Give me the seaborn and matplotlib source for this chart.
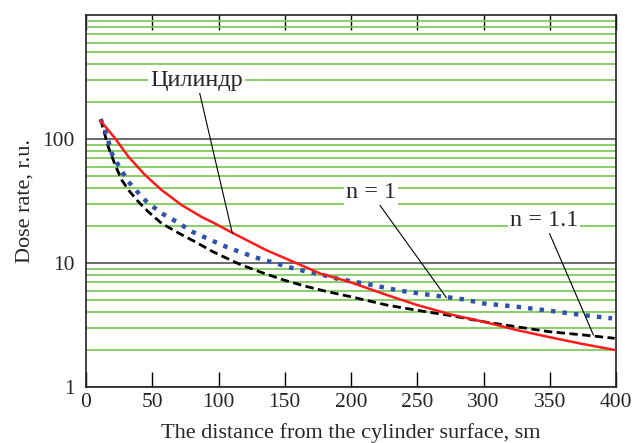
import matplotlib
matplotlib.use("Agg")
from matplotlib import pyplot as plt
from matplotlib import ticker
import seaborn as sns
import pandas as pd

# values
cyl_x = [11, 22, 32, 44.5, 57, 72, 87, 97, 111, 136, 159, 177, 194, 202, 227, 250, 275, 300, 325, 350, 375, 399]
cyl_y = [140, 101, 72, 51.3, 38.8, 29.4, 23.6, 20.9, 17.4, 12.7, 9.95, 8.2, 7.29, 6.85, 5.52, 4.58, 3.85, 3.36, 2.88, 2.52, 2.22, 1.99]

n1_x = [11, 15.6, 19.4, 25.7, 32, 37, 45.8, 57, 68.4, 80, 88, 103.6, 116, 129, 141, 154, 167, 179, 189,
        212, 237, 260, 285, 300, 325, 350, 375, 397]
n1_y = [145, 108, 76.7, 58, 45.3, 39.3, 31.2, 25.2, 21.5, 17.9, 16.4, 13.8, 12.3, 11.0, 10.1, 9.2, 8.5, 8.0, 7.5,
        6.77, 5.98, 5.52, 5.09, 4.72, 4.44, 4.12, 3.8, 3.58]

n11_x = [11, 16.8, 22, 27, 32, 39.5, 47, 57, 70, 82, 96, 101, 116, 131, 149, 167, 180,
         202, 227, 252, 277, 300, 325, 350, 375, 399]
n11_y = [144, 86.7, 61.7, 46.7, 38.8, 31.2, 25.9, 20.9, 17.4, 14.9, 12.3, 11.6, 9.77, 8.5, 7.3, 6.44, 5.95,
         5.28, 4.58, 4.12, 3.74, 3.36, 3.06, 2.79, 2.63, 2.47]

x_ticks = [0, 50, 100, 150, 200, 250, 300, 350, 400]
y_ticks = [1, 10, 100]

sns.set_style("white")
plt.rcParams["font.family"] = ["Liberation Serif", "DejaVu Serif"]

fig = plt.figure(figsize=(6.36, 4.43), dpi=100)
ax = fig.add_axes([86 / 636, 1 - 387 / 443, 530 / 636, 372 / 443])

cyl = pd.DataFrame({"x": cyl_x, "y": cyl_y})
n1 = pd.DataFrame({"x": n1_x, "y": n1_y})
n11 = pd.DataFrame({"x": n11_x, "y": n11_y})

sns.lineplot(data=n11, x="x", y="y", ax=ax, color="black", lw=2,
             linestyle=(0, (3, 1.6)), zorder=3)
sns.lineplot(data=n1, x="x", y="y", ax=ax, color="#3052ad", lw=3.2,
             linestyle=(0, (1, 1.6)), zorder=4)
sns.lineplot(data=cyl, x="x", y="y", ax=ax, color="#ff1a1a", lw=1.8, zorder=5)

ax.set_yscale("log")
ax.set_xlim(0, 400)
ax.set_ylim(1, 1000)
ax.xaxis.set_major_locator(ticker.FixedLocator(x_ticks))
ax.yaxis.set_major_locator(ticker.FixedLocator(y_ticks))
ax.yaxis.set_major_formatter(ticker.FixedFormatter([str(v) for v in y_ticks]))
ax.yaxis.set_minor_locator(ticker.LogLocator(base=10, subs=range(2, 10)))
ax.yaxis.set_minor_formatter(ticker.NullFormatter())

ax.yaxis.grid(True, which="major", color="#6e6e6e", lw=1.5)
ax.yaxis.grid(True, which="minor", color="#7fcc5c", lw=1.3)
ax.xaxis.grid(False)
ax.set_axisbelow(True)

ax.tick_params(axis="x", which="major", direction="in", top=True, bottom=True,
               length=11, width=1, color="black", labelsize=15.5, pad=4)
ax.tick_params(axis="y", which="both", length=0, labelsize=15.5, pad=8)
for s in ax.spines.values():
    s.set_color("#222222")
    s.set_linewidth(1.2)

ax.set_xlabel("The distance from the cylinder surface, sm", fontsize=16, labelpad=8)
ax.set_ylabel("Dose rate, r.u.", fontsize=16, labelpad=6)

box = dict(fc="white", ec="none", pad=1.5)
arrow = dict(arrowstyle="-", color="black", lw=0.8, shrinkA=0, shrinkB=0)
ax.annotate("Цилиндр", xy=(110.4, 17.4), xytext=(83.5, 299), fontsize=17.5,
            ha="center", va="center", bbox=box, arrowprops=arrow, zorder=6)
ax.annotate("n = 1", xy=(272, 5.25), xytext=(215, 36.9), fontsize=17.5,
            ha="center", va="center", bbox=box, arrowprops=arrow, zorder=6)
ax.annotate("n = 1.1", xy=(383, 2.62), xytext=(345.7, 21.9), fontsize=17.5,
            ha="center", va="center", bbox=box, arrowprops=arrow, zorder=6)

fig.savefig("out.png", dpi=100)
